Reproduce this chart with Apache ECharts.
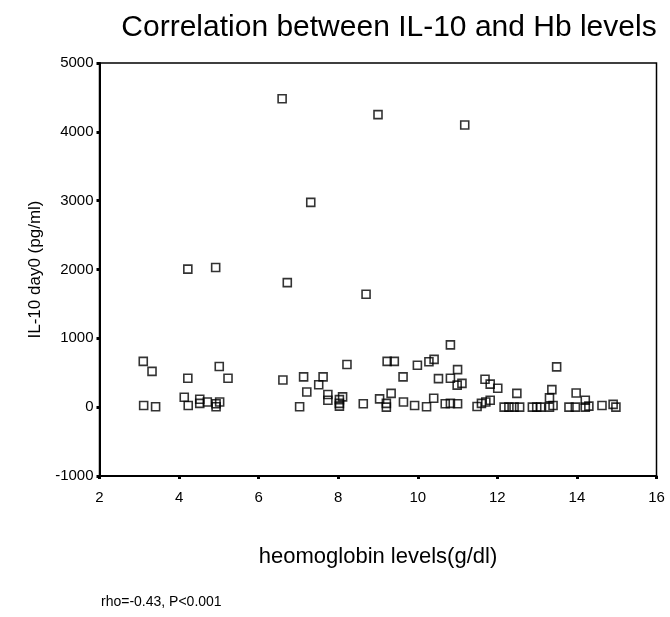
<!DOCTYPE html>
<html>
<head>
<meta charset="utf-8">
<script src="https://cdn.jsdelivr.net/npm/echarts@6/dist/echarts.min.js"></script>
<style>
  html, body { margin: 0; padding: 0; background: #fff; }
  #chart { width: 670px; height: 617px; }
</style>
</head>
<body>
<div id="chart"></div>
<script>
// haemoglobin (g/dl) and IL-10 day0 (pg/ml)
const hbValues = [
  6.59, 9.0, 11.18, 7.31, 4.22, 4.92, 6.72, 8.70,
  3.10, 3.32, 4.22, 5.01, 5.23, 6.61, 3.11, 3.41, 4.13, 4.23, 4.52, 4.52, 4.71, 4.93, 5.02, 4.93,
  7.13, 7.62, 7.51, 7.21, 8.22, 7.74, 7.74, 8.11, 8.03, 8.03, 8.03, 7.03, 8.63, 9.04, 9.21, 9.21,
  9.33, 9.23, 9.41, 9.63, 9.64, 9.92, 9.99, 10.22, 10.28, 10.41, 10.40, 10.52, 10.69, 10.82, 11.0,
  10.82, 10.82, 11.0, 10.99, 11.11, 11.49,
  11.60, 11.71, 11.82, 11.69, 11.82, 12.01, 12.17, 12.29, 12.42, 12.56, 12.49, 12.88, 12.99, 13.09,
  13.31, 13.40, 13.31, 13.37, 13.49, 13.80, 13.96, 13.98, 14.21, 14.21, 14.30, 14.63, 14.91, 14.98
]
const il10Values = [
  4480, 4250, 4100, 2975, 2005, 2030, 1810, 1640,
  665, 520, 420, 590, 420, 395, 25, 5, 145, 25, 115, 55, 75, 5, 75, 50,
  440, 440, 325, 220, 620, 185, 100, 150, 110, 55, 15, 5, 50, 120, 55, 0,
  200, 665, 665, 440, 75, 25, 610, 5, 660, 695, 130, 415, 50, 55, 50,
  905, 420, 545, 320, 345, 10,
  55, 75, 100, 405, 335, 275, 0, 0, 0, 0, 200, 0, 0, 0,
  0, 25, 135, 255, 585, 0, 0, 205, 100, 0, 15, 25, 40, 0
]
const xTicks = { min: 2, max: 16, step: 2 }
const yTicks = { min: -1000, max: 5000, step: 1000 }

const points = hbValues.map((hb, i) => [hb, il10Values[i]])

const FONT = 'Liberation Sans'
const chart = echarts.init(document.getElementById('chart'))

chart.setOption({
  backgroundColor: '#fff',
  animation: false,
  title: {
    text: 'Correlation between IL-10 and Hb levels',
    left: 384,
    textAlign: 'center',
    top: 8,
    textStyle: { fontFamily: FONT, fontSize: 30, fontWeight: 'normal', color: '#000' }
  },
  graphic: [
    {
      type: 'text',
      left: 101,
      top: 595,
      style: { text: 'rho=-0.43, P<0.001', font: '14px "Liberation Sans"', fill: '#000' }
    }
  ],
  grid: {
    left: 99.5,
    right: 13.5,
    top: 63,
    bottom: 141,
    show: true,
    borderColor: '#000',
    borderWidth: 1.5
  },
  xAxis: {
    type: 'value',
    min: xTicks.min,
    max: xTicks.max,
    interval: xTicks.step,
    name: 'heomoglobin levels(g/dl)',
    nameLocation: 'middle',
    nameGap: 70,
    nameTextStyle: { fontFamily: FONT, fontSize: 22, color: '#000' },
    axisLine: { show: true, onZero: false, lineStyle: { color: '#000', width: 2 } },
    axisTick: { show: true, length: 3, lineStyle: { color: '#000', width: 3 } },
    axisLabel: { margin: 14, fontFamily: FONT, fontSize: 15, color: '#000' },
    splitLine: { show: false }
  },
  yAxis: {
    type: 'value',
    min: yTicks.min,
    max: yTicks.max,
    interval: yTicks.step,
    name: 'IL-10 day0 (pg/ml)',
    nameLocation: 'middle',
    nameGap: 52,
    nameTextStyle: { fontFamily: FONT, fontSize: 17, color: '#000' },
    axisLine: { show: true, onZero: false, lineStyle: { color: '#000', width: 2 } },
    axisTick: { show: true, length: 3, lineStyle: { color: '#000', width: 3 } },
    axisLabel: { margin: 6, fontFamily: FONT, fontSize: 15, color: '#000', formatter: v => String(v) },
    splitLine: { show: false }
  },
  series: [
    {
      type: 'scatter',
      data: points,
      symbol: 'rect',
      symbolSize: 8,
      itemStyle: { color: 'transparent', borderColor: '#000', borderWidth: 1.6 }
    }
  ]
})
</script>
</body>
</html>
